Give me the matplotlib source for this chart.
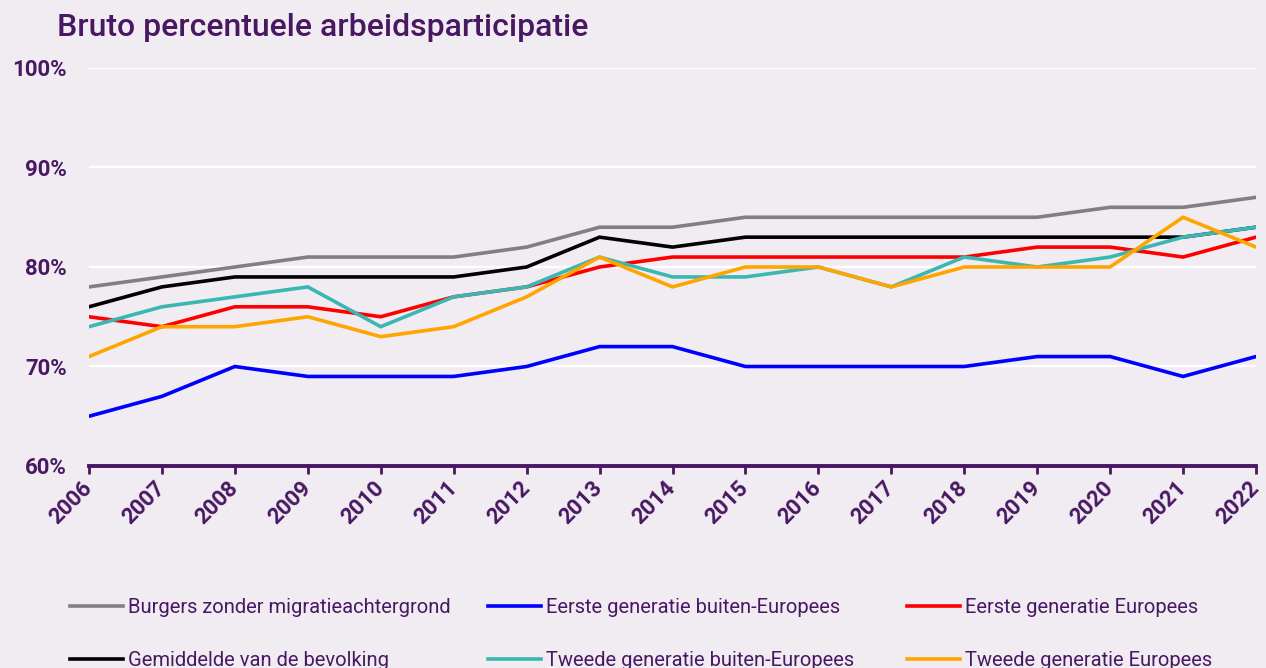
import matplotlib.pyplot as plt
from matplotlib.lines import Line2D

jaren = list(range(2006, 2023))

burgers_zonder = [78, 79, 80, 81, 81, 81, 82, 84, 84, 85, 85, 85, 85, 85, 86, 86, 87]
eerste_buiten_eu = [65, 67, 70, 69, 69, 69, 70, 72, 72, 70, 70, 70, 70, 71, 71, 69, 71]
eerste_eu = [75, 74, 76, 76, 75, 77, 78, 80, 81, 81, 81, 81, 81, 82, 82, 81, 83]
gemiddelde = [76, 78, 79, 79, 79, 79, 80, 83, 82, 83, 83, 83, 83, 83, 83, 83, 84]
tweede_buiten_eu = [74, 76, 77, 78, 74, 77, 78, 81, 79, 79, 80, 78, 81, 80, 81, 83, 84]
tweede_eu = [71, 74, 74, 75, 73, 74, 77, 81, 78, 80, 80, 78, 80, 80, 80, 85, 82]

reeksen = [
    ("Burgers zonder migratieachtergrond", burgers_zonder, "#808080"),
    ("Eerste generatie buiten-Europees", eerste_buiten_eu, "#0000FF"),
    ("Eerste generatie Europees", eerste_eu, "#FF0000"),
    ("Gemiddelde van de bevolking", gemiddelde, "#000000"),
    ("Tweede generatie buiten-Europees", tweede_buiten_eu, "#3AB7B2"),
    ("Tweede generatie Europees", tweede_eu, "#FFA500"),
]

y_ticks = [60, 70, 80, 90, 100]

PAARS = "#481862"
ACHTERGROND = "#F1ECF2"

plt.rcParams['font.family'] = ['Roboto', 'DejaVu Sans']

fig = plt.figure(figsize=(12.66, 6.68), dpi=100, facecolor=ACHTERGROND)
ax = fig.add_axes([89 / 1266, 202 / 668, (1256 - 89) / 1266, (466 - 68) / 668])
ax.set_facecolor(ACHTERGROND)

for i, (naam, waarden, kleur) in enumerate(reeksen):
    ax.plot(jaren, waarden, color=kleur, linewidth=2.6, label=naam,
            zorder=3 + i, solid_capstyle='round', solid_joinstyle='miter')

ax.set_xlim(2006, 2022)
ax.set_ylim(60, 100)
ax.set_yticks(y_ticks)
ax.set_yticklabels([f"{v}%" for v in y_ticks])
ax.set_xticks(jaren)
ax.set_xticklabels([str(j) for j in jaren], rotation=45, ha='right',
                   va='center', rotation_mode='anchor')

for v in y_ticks[1:]:
    ax.axhline(v, color='white', linewidth=1.6, zorder=1)

for s in ['top', 'right', 'left']:
    ax.spines[s].set_visible(False)
ax.spines['bottom'].set_color(PAARS)
ax.spines['bottom'].set_linewidth(2.8)
ax.spines['bottom'].set_zorder(10)

ax.tick_params(axis='y', length=0, pad=16, labelsize=16, labelcolor=PAARS)
ax.tick_params(axis='x', length=5.5, width=2, color=PAARS, pad=8,
               labelsize=16, labelcolor=PAARS)
for lbl in ax.get_xticklabels() + ax.get_yticklabels():
    lbl.set_fontweight('bold')

fig.text(57 / 1266, 1 - 28 / 668, "Bruto percentuele arbeidsparticipatie",
         fontsize=23, fontweight='medium', color=PAARS, va='center', ha='left')

# legenda: drie kolommen met vaste breedte, elk twee regels
kolommen = [[0, 3], [1, 4], [2, 5]]
kolom_x = [70, 488, 907]
for kol, x in zip(kolommen, kolom_x):
    handles = [Line2D([0], [0], color=reeksen[k][2], linewidth=2.6) for k in kol]
    labels = [reeksen[k][0] for k in kol]
    leg = fig.legend(handles, labels, ncol=1, loc='upper left',
                     bbox_to_anchor=(x / 1266, 1 - 598 / 668),
                     frameon=False, fontsize=14.5, handlelength=2.65,
                     handletextpad=0.25, labelspacing=1.7,
                     borderpad=0, borderaxespad=0)
    for t in leg.get_texts():
        t.set_color(PAARS)

fig.savefig("out.png", dpi=100, facecolor=ACHTERGROND)
